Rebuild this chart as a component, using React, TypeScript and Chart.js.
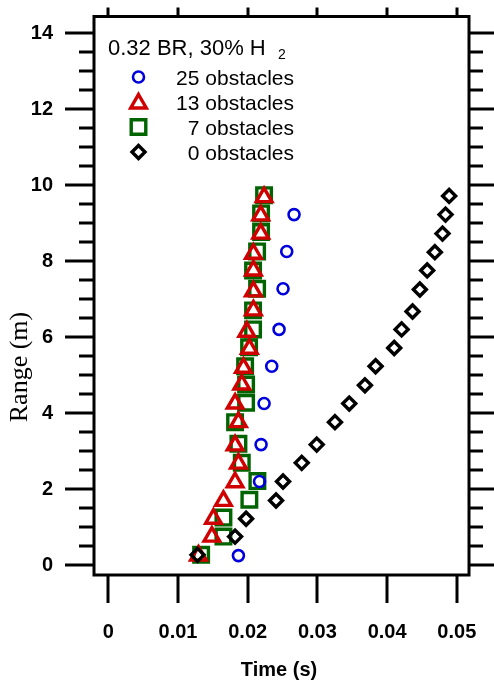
import React, { useEffect, useRef } from 'react';
import { Chart, registerables } from 'chart.js';

Chart.register(...registerables);

// ---- data ----
const xTickValues = [0, 0.01, 0.02, 0.03, 0.04, 0.05];
const xTickLabels = ['0', '0.01', '0.02', '0.03', '0.04', '0.05'];
const yTickValues = [0, 2, 4, 6, 8, 10, 12, 14];
const yMinorTickValues = [0.5, 1, 1.5, 2.5, 3, 3.5, 4.5, 5, 5.5, 6.5, 7, 7.5, 8.5, 9, 9.5, 10.5, 11, 11.5, 12.5, 13, 13.5];

const seriesNames = ['25 obstacles', '13 obstacles', '7 obstacles', '0 obstacles'];
const legendTitle = '0.32 BR, 30% H';
const legendSub = '2';
const xTitle = 'Time (s)';
const yTitle = 'Range (m)';

const time25 = [0.01867, 0.0217, 0.02192, 0.02235, 0.02345, 0.0245, 0.02507, 0.0256, 0.02665];
const range25 = [0.26, 2.21, 3.18, 4.26, 5.24, 6.21, 7.28, 8.26, 9.23];

const time13 = [0.01294, 0.01486, 0.01509, 0.01652, 0.01819, 0.01867, 0.01819, 0.01867, 0.01819, 0.01915, 0.01939, 0.02024, 0.01987, 0.02082, 0.02082, 0.02082, 0.02082, 0.02187, 0.02187, 0.02235];
const range13 = [0.26, 0.76, 1.23, 1.7, 2.19, 2.68, 3.16, 3.77, 4.26, 4.76, 5.2, 5.7, 6.15, 6.71, 7.21, 7.76, 8.2, 8.73, 9.21, 9.69];

const time7 = [0.01332, 0.01652, 0.01652, 0.02024, 0.02139, 0.01915, 0.01867, 0.01819, 0.01977, 0.01977, 0.01963, 0.0202, 0.02077, 0.02077, 0.02135, 0.02077, 0.02135, 0.02192, 0.02192, 0.02235];
const range7 = [0.28, 0.76, 1.26, 1.73, 2.22, 2.7, 3.2, 3.77, 4.28, 4.76, 5.24, 5.74, 6.21, 6.71, 7.28, 7.76, 8.26, 8.77, 9.26, 9.74];

const time0 = [0.0128, 0.01819, 0.01977, 0.02407, 0.02507, 0.02775, 0.0299, 0.03252, 0.03457, 0.03682, 0.03835, 0.04102, 0.04208, 0.04365, 0.0447, 0.04575, 0.04685, 0.04795, 0.04838, 0.0489];
const range0 = [0.28, 0.76, 1.23, 1.71, 2.21, 2.7, 3.18, 3.77, 4.26, 4.74, 5.24, 5.72, 6.21, 6.68, 7.26, 7.76, 8.24, 8.73, 9.23, 9.72];

const BLUE = '#0000dd';
const RED = '#d00000';
const GREEN = '#006400';
const BLACK = '#000000';

const SANS = 'Arial, "Liberation Sans", sans-serif';
const SERIF = '"Times New Roman", "Liberation Serif", serif';

const toPoints = (xs: number[], ys: number[]) => xs.map((x, i) => ({ x, y: ys[i] }));

type Marker = { style: string; color: string; r: number; w: number };
const markers: Marker[] = [
  { style: 'circle', color: BLUE, r: 5.5, w: 2.6 },
  { style: 'triangle', color: RED, r: 9, w: 3.4 },
  { style: 'rect', color: GREEN, r: 10.3, w: 3.4 },
  { style: 'rectRot', color: BLACK, r: 6.5, w: 3.4 },
];

function drawMarker(ctx: CanvasRenderingContext2D, m: Marker, x: number, y: number) {
  ctx.save();
  ctx.strokeStyle = m.color;
  ctx.lineWidth = m.w;
  ctx.beginPath();
  const r = m.r;
  if (m.style === 'circle') {
    ctx.arc(x, y, r, 0, Math.PI * 2);
  } else if (m.style === 'triangle') {
    ctx.moveTo(x, y - r);
    ctx.lineTo(x + 0.866 * r, y + 0.5 * r);
    ctx.lineTo(x - 0.866 * r, y + 0.5 * r);
    ctx.closePath();
  } else if (m.style === 'rect') {
    const h = r * Math.SQRT1_2;
    ctx.rect(x - h, y - h, 2 * h, 2 * h);
  } else {
    ctx.moveTo(x, y - r);
    ctx.lineTo(x + r, y);
    ctx.lineTo(x, y + r);
    ctx.lineTo(x - r, y);
    ctx.closePath();
  }
  ctx.stroke();
  ctx.restore();
}

const framePlugin = {
  id: 'framePlugin',
  afterDraw(chart: any) {
    const ctx: CanvasRenderingContext2D = chart.ctx;
    const { left, right, top, bottom } = chart.chartArea;
    const xs = chart.scales.x;
    const ys = chart.scales.y;
    ctx.save();
    ctx.strokeStyle = '#000';
    ctx.lineCap = 'butt';
    // frame
    ctx.lineWidth = 3;
    ctx.strokeRect(left, top, right - left, bottom - top);
    // x ticks (bottom & top)
    ctx.lineWidth = 3;
    xTickValues.forEach((v) => {
      const px = Math.round(xs.getPixelForValue(v));
      ctx.beginPath();
      ctx.moveTo(px, bottom);
      ctx.lineTo(px, bottom + 28);
      ctx.moveTo(px, top);
      ctx.lineTo(px, top - 9);
      ctx.stroke();
    });
    // y major ticks (left & right)
    yTickValues.forEach((v) => {
      const py = Math.round(ys.getPixelForValue(v));
      ctx.beginPath();
      ctx.moveTo(left, py);
      ctx.lineTo(left - 29, py);
      ctx.moveTo(right, py);
      ctx.lineTo(right + 29, py);
      ctx.stroke();
    });
    // y minor ticks
    yMinorTickValues.forEach((v) => {
      const py = Math.round(ys.getPixelForValue(v));
      ctx.beginPath();
      ctx.moveTo(left, py);
      ctx.lineTo(left - 15, py);
      ctx.moveTo(right, py);
      ctx.lineTo(right + 14, py);
      ctx.stroke();
    });

    // legend
    ctx.fillStyle = '#000';
    ctx.textBaseline = 'alphabetic';
    ctx.textAlign = 'left';
    ctx.font = `22px ${SANS}`;
    ctx.fillText(legendTitle, 108, 55);
    ctx.font = `14px ${SANS}`;
    ctx.fillText(legendSub, 278, 59);
    ctx.font = `21px ${SANS}`;
    ctx.textAlign = 'right';
    seriesNames.forEach((name, i) => {
      const base = 85 + i * 25;
      ctx.fillText(name, 294, base);
      const cy = 77 + i * 25 + (markers[i].style === 'triangle' ? 1.5 : 0);
      drawMarker(ctx, markers[i], 138.5, cy);
    });

    // axis titles
    ctx.textAlign = 'center';
    ctx.font = `bold 20px ${SANS}`;
    ctx.fillText(xTitle, 279, 676);
    ctx.save();
    ctx.translate(27, 367);
    ctx.rotate(-Math.PI / 2);
    ctx.font = `26px ${SERIF}`;
    ctx.fillText(yTitle, 0, 0);
    ctx.restore();
    ctx.restore();
  },
};

const zeroPadding = (scale: any) => {
  scale.paddingTop = 0;
  scale.paddingBottom = 0;
  scale.paddingLeft = 0;
  scale.paddingRight = 0;
};

export default function App() {
  const canvasRef = useRef<HTMLCanvasElement | null>(null);

  useEffect(() => {
    const canvas = canvasRef.current;
    if (!canvas) return;
    const mk = (label: string, xs: number[], ys: number[], m: Marker, order: number) => ({
      label,
      data: toPoints(xs, ys),
      showLine: false,
      order,
      pointStyle: m.style,
      pointRadius: m.r,
      pointHoverRadius: m.r,
      pointBorderWidth: m.w,
      pointHoverBorderWidth: m.w,
      pointBorderColor: m.color,
      pointBackgroundColor: 'rgba(0,0,0,0)',
      borderColor: m.color,
      backgroundColor: 'rgba(0,0,0,0)',
    });
    const chart = new Chart(canvas, {
      type: 'scatter',
      data: {
        datasets: [
          mk(seriesNames[0], time25, range25, markers[0], 1),
          mk(seriesNames[1], time13, range13, markers[1], 2),
          mk(seriesNames[2], time7, range7, markers[2], 3),
          mk(seriesNames[3], time0, range0, markers[3], 0),
        ],
      },
      options: {
        responsive: false,
        animation: false,
        devicePixelRatio: 1,
        events: [],
        layout: { padding: { left: 0, right: 25, top: 16.5, bottom: 0 } },
        plugins: { legend: { display: false }, tooltip: { enabled: false } },
        scales: {
          x: {
            type: 'linear',
            position: 'bottom',
            min: -0.00205,
            max: 0.05175,
            grid: { display: false, drawTicks: false },
            border: { display: false },
            ticks: {
              color: '#000',
              font: { family: SANS, size: 20, weight: 'bold' },
              padding: 45,
              maxRotation: 0,
              autoSkip: false,
              callback: (v: any) => {
                const i = xTickValues.findIndex((t) => Math.abs(t - v) < 1e-9);
                return i >= 0 ? xTickLabels[i] : '';
              },
            },
            afterBuildTicks: (scale: any) => {
              scale.ticks = xTickValues.map((v) => ({ value: v }));
            },
            afterFit: (scale: any) => {
              scale.height = 106;
              zeroPadding(scale);
            },
          },
          y: {
            type: 'linear',
            position: 'left',
            min: -0.25,
            max: 14.44,
            grid: { display: false, drawTicks: false },
            border: { display: false },
            ticks: {
              color: '#000',
              font: { family: SANS, size: 20, weight: 'bold' },
              padding: 41,
              autoSkip: false,
              callback: (v: any) => String(v),
            },
            afterBuildTicks: (scale: any) => {
              scale.ticks = yTickValues.map((v) => ({ value: v }));
            },
            afterFit: (scale: any) => {
              scale.width = 94;
              zeroPadding(scale);
            },
          },
        },
      },
      plugins: [framePlugin],
    } as any);
    return () => chart.destroy();
  }, []);

  return (
    <div style={{ position: 'absolute', left: 0, top: 0, width: 494, height: 681, background: '#fff' }}>
      <canvas ref={canvasRef} width={494} height={681} style={{ display: 'block' }} />
    </div>
  );
}
